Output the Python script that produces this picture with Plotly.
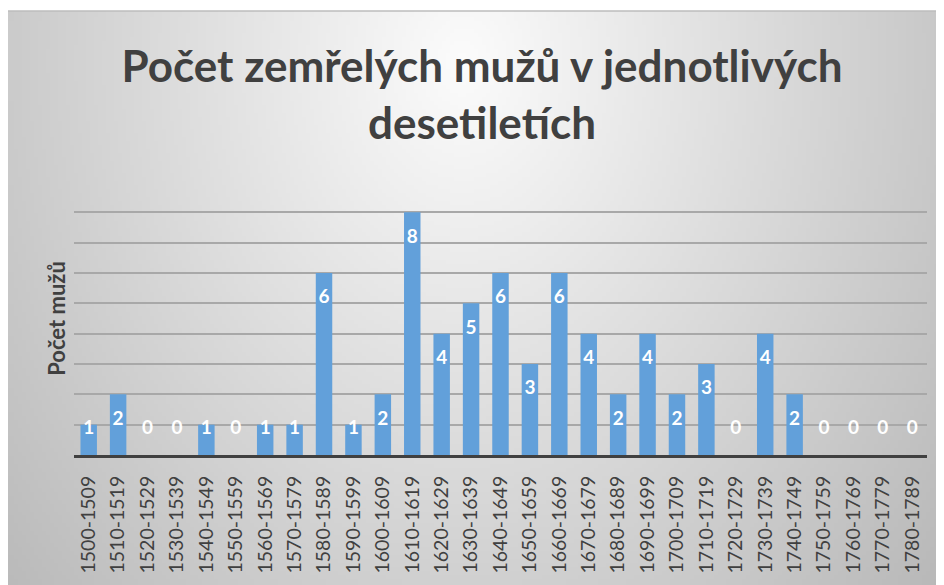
import base64
import struct
import zlib

import numpy as np
import plotly.graph_objects as go

# ---------------- data ----------------
decades = [
    "1500-1509", "1510-1519", "1520-1529", "1530-1539", "1540-1549", "1550-1559",
    "1560-1569", "1570-1579", "1580-1589", "1590-1599", "1600-1609", "1610-1619",
    "1620-1629", "1630-1639", "1640-1649", "1650-1659", "1660-1669", "1670-1679",
    "1680-1689", "1690-1699", "1700-1709", "1710-1719", "1720-1729", "1730-1739",
    "1740-1749", "1750-1759", "1760-1769", "1770-1779", "1780-1789",
]
deaths = [1, 2, 0, 0, 1, 0, 1, 1, 6, 1, 2, 8, 4, 5, 6, 3, 6, 4, 2, 4, 2, 3, 0, 4, 2, 0, 0, 0, 0]

title_text = "Počet zemřelých mužů v jednotlivých<br>desetiletích"
y_title = "Počet mužů"

# ---------------- layout geometry (pixels; page body has an 8px margin) ----------------
W, H = 936, 577
ML, MR, MT, MB = 66, 17, 174, 130
PW, PH = W - ML - MR, H - MT - MB


def px_to_paper_x(p):
    return (p - ML) / PW


def px_to_paper_y(p):
    return (H - MB - p) / PH


# ---------------- gradient background (PNG data URI) ----------------
def make_png(arr):
    h, w = arr.shape
    raw = b"".join(b"\x00" + arr[i].astype(np.uint8).tobytes() for i in range(h))

    def chunk(tag, data):
        c = struct.pack(">I", len(data)) + tag + data
        return c + struct.pack(">I", zlib.crc32(tag + data) & 0xFFFFFFFF)

    png = b"\x89PNG\r\n\x1a\n"
    png += chunk(b"IHDR", struct.pack(">IIBBBBB", w, h, 8, 0, 0, 0, 0))
    png += chunk(b"IDAT", zlib.compress(raw, 9))
    png += chunk(b"IEND", b"")
    return "data:image/png;base64," + base64.b64encode(png).decode()


bx0, by0 = 0, 3
bw, bh = W - bx0, H - by0
gw, gh = 234, 144
xs = np.linspace(bx0, W, gw)
ys = np.linspace(by0, H, gh)
XX, YY = np.meshgrid(xs, ys)
r = np.sqrt(((XX - 455) / 540) ** 2 + ((YY - 52) / 700) ** 2)
grad = np.clip(252 - 58 * r, 183, 252)
bg_uri = make_png(grad)

# ---------------- figure ----------------
label_y = [max(v - 0.84, 0.84) for v in deaths]

fig = go.Figure()
fig.add_trace(go.Bar(
    x=decades, y=deaths,
    marker=dict(color="#62a0da", line=dict(width=0)),
    hoverinfo="x+y",
    showlegend=False,
))
fig.add_trace(go.Scatter(
    x=decades, y=label_y, mode="text",
    text=[str(v) for v in deaths],
    textposition="middle center",
    textfont=dict(family="Lato", size=19, color="white", weight="bold"),
    hoverinfo="skip", showlegend=False,
))

fig.update_layout(
    width=W, height=H,
    margin=dict(l=ML, r=MR, t=MT, b=MB, autoexpand=False),
    paper_bgcolor="white",
    plot_bgcolor="rgba(0,0,0,0)",
    bargap=0.44,
    font=dict(family="Lato", color="#404040"),
    title=dict(
        text=title_text,
        x=474 / W, xanchor="center", xref="container",
        y=1 - 74 / H, yanchor="middle",
        font=dict(family="Lato", size=44, color="#404040", weight="bold"),
    ),
    xaxis=dict(
        type="category",
        range=[-0.5, len(decades) - 0.5],
        tickangle=-90,
        tickfont=dict(family="Lato", size=19.5, color="#404040"),
        showline=True, linecolor="#404040", linewidth=3,
        ticks="", ticklabelstandoff=10,
        showgrid=False, fixedrange=True, automargin=False,
    ),
    yaxis=dict(
        range=[0, 9], dtick=1,
        showticklabels=False,
        showgrid=True, gridcolor="#a8a8a8", gridwidth=1.5,
        zeroline=False, showline=False, ticks="",
        title=dict(text=y_title, standoff=1,
                   font=dict(family="Lato", size=22, color="#404040", weight="bold")),
        fixedrange=True, automargin=False,
    ),
    images=[dict(
        source=bg_uri, xref="paper", yref="paper",
        x=px_to_paper_x(bx0), y=px_to_paper_y(by0),
        sizex=bw / PW, sizey=bh / PH,
        xanchor="left", yanchor="top", sizing="stretch",
        layer="below", opacity=1,
    )],
    shapes=[
        dict(type="line", xref="paper", yref="paper",
             x0=px_to_paper_x(bx0), x1=px_to_paper_x(W),
             y0=px_to_paper_y(by0), y1=px_to_paper_y(by0),
             line=dict(color="#bdbdbd", width=1.5), layer="below"),
    ],
)

fig.write_html("out.html")
